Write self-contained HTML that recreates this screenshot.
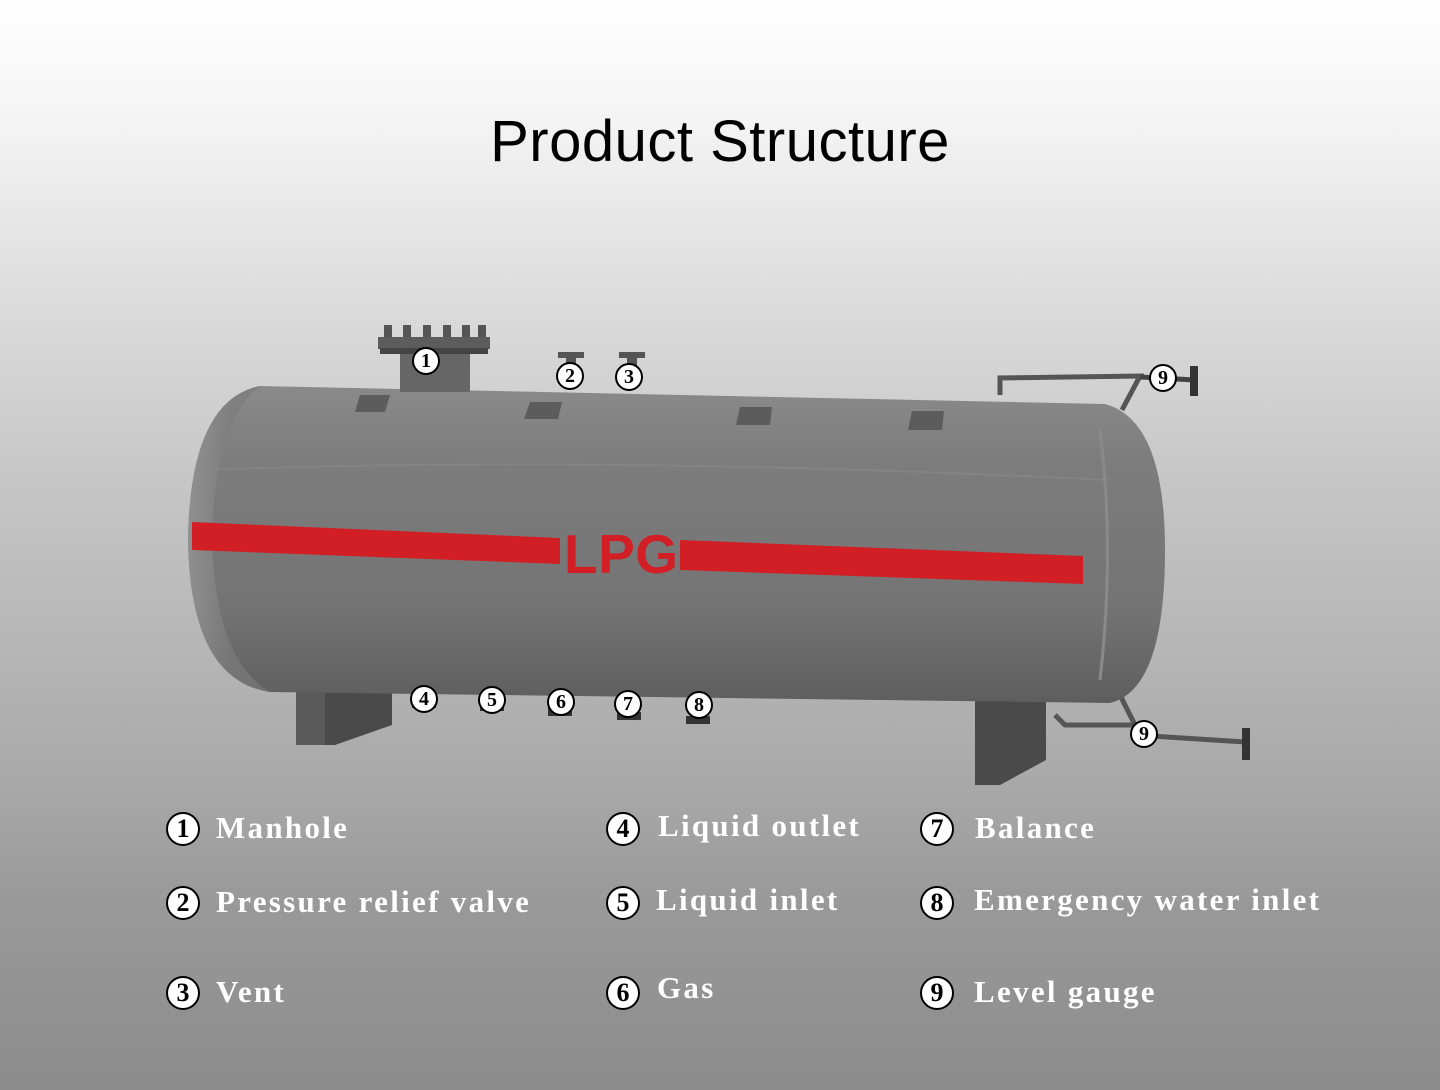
<!DOCTYPE html>
<html><head><meta charset="utf-8"><style>
html,body{margin:0;padding:0}
body{width:1440px;height:1090px;overflow:hidden;background:linear-gradient(#ffffff 0px,#f4f4f4 120px,#dcdcdc 300px,#c4c4c4 500px,#a9a9a9 780px,#999 900px,#8c8c8c 1090px);position:relative;font-family:"Liberation Sans",sans-serif}
h1{position:absolute;left:0;width:1440px;top:108px;margin:0;text-align:center;font-weight:normal;font-size:58px;color:#000;letter-spacing:0.5px}
.lg{position:absolute;font-family:"Liberation Serif",serif;font-weight:bold;color:#fff;font-size:31px;letter-spacing:2.3px}
.c{position:absolute;width:30px;height:30px;border:2px solid #000;border-radius:50%;background:#fff;color:#000;font-family:"Liberation Serif",serif;font-weight:bold;font-size:26px;line-height:30px;text-align:center}
</style></head><body>
<h1>Product Structure</h1>
<svg width="1440" height="1090" style="position:absolute;left:0;top:0">
<defs>
<linearGradient id="tb" x1="0" y1="0" x2="0" y2="1">
<stop offset="0" stop-color="#8a8a8a"/><stop offset="0.25" stop-color="#7c7c7c"/><stop offset="0.7" stop-color="#747474"/><stop offset="1" stop-color="#5e5e5e"/></linearGradient>
<linearGradient id="lc" x1="0" y1="0" x2="1" y2="0">
<stop offset="0" stop-color="#9a9a9a"/><stop offset="0.5" stop-color="#7d7d7d"/><stop offset="1" stop-color="#777"/></linearGradient>
</defs>
<polygon points="296,690 392,685 392,725 335,745 296,745" fill="#4a4a4a"/>
<polygon points="296,660 325,670 325,745 296,745" fill="#5a5a5a"/>
<polygon points="975,690 1046,690 1046,760 1000,785 975,785" fill="#4a4a4a"/>
<path d="M1000,395 L1000,378 L1140,376 L1122,410" stroke="#555" stroke-width="5" fill="none"/>
<path d="M1140,377 L1195,380" stroke="#444" stroke-width="5"/>
<rect x="1190" y="366" width="8" height="30" fill="#333"/>
<path d="M1120,695 L1135,725 L1065,725 L1055,715 M1135,735 L1245,742" stroke="#555" stroke-width="5" fill="none"/>
<rect x="1242" y="728" width="8" height="32" fill="#333"/>
<path d="M260,386 L1105,404 Q1165,420 1165,550 Q1165,690 1110,703 L270,692 Q190,680 188,540 Q190,400 260,386 Z" fill="url(#tb)"/>
<path d="M260,386 Q190,400 188,540 Q190,680 270,692 Q215,660 212,540 Q215,420 260,386Z" fill="url(#lc)" opacity="0.7"/>
<path d="M1100,430 Q1115,550 1100,680" stroke="#8a8a8a" stroke-width="3" fill="none"/>
<path d="M200,470 Q600,455 1110,480" stroke="#8c8c8c" stroke-width="2" fill="none" opacity="0.5"/>
<polygon points="360,395 390,395 385,412 355,412" fill="#5c5c5c"/>
<polygon points="530,402 562,402 558,419 524,419" fill="#5c5c5c"/>
<polygon points="740,407 772,407 770,425 736,425" fill="#5c5c5c"/>
<polygon points="912,411 944,411 942,430 908,430" fill="#5c5c5c"/>
<rect x="400" y="350" width="70" height="42" fill="#666"/>
<rect x="378" y="337" width="112" height="12" fill="#5c5c5c"/>
<rect x="380" y="348" width="108" height="6" fill="#444"/>
<g fill="#555"><rect x="384" y="325" width="8" height="12"/><rect x="403" y="325" width="8" height="12"/><rect x="423" y="325" width="8" height="12"/><rect x="443" y="325" width="8" height="12"/><rect x="462" y="325" width="8" height="12"/><rect x="478" y="325" width="8" height="12"/></g>
<rect x="558" y="352" width="26" height="6" fill="#555"/><rect x="566" y="358" width="10" height="10" fill="#555"/>
<rect x="619" y="352" width="26" height="6" fill="#555"/><rect x="627" y="358" width="10" height="10" fill="#555"/>
<g fill="#333"><rect x="412" y="700" width="24" height="8"/><rect x="480" y="703" width="24" height="8"/><rect x="548" y="708" width="24" height="8"/><rect x="617" y="712" width="24" height="8"/><rect x="686" y="716" width="24" height="8"/></g>
<polygon points="192,522 560,538 560,564 192,550" fill="#d11f25"/>
<polygon points="680,540 1083,556 1083,584 680,570" fill="#d11f25"/>
<text x="564" y="573" font-family="Liberation Sans, sans-serif" font-size="55" font-weight="bold" fill="#d11f25" textLength="114">LPG</text>
</svg>
<div class="c" style="left:412px;top:347px;width:24px;height:24px;line-height:24px;font-size:20px">1</div>
<div class="c" style="left:556px;top:362px;width:24px;height:24px;line-height:24px;font-size:20px">2</div>
<div class="c" style="left:615px;top:363px;width:24px;height:24px;line-height:24px;font-size:20px">3</div>
<div class="c" style="left:1149px;top:364px;width:24px;height:24px;line-height:24px;font-size:20px">9</div>
<div class="c" style="left:1130px;top:720px;width:24px;height:24px;line-height:24px;font-size:20px">9</div>
<div class="c" style="left:410px;top:685px;width:24px;height:24px;line-height:24px;font-size:20px">4</div>
<div class="c" style="left:478px;top:686px;width:24px;height:24px;line-height:24px;font-size:20px">5</div>
<div class="c" style="left:547px;top:688px;width:24px;height:24px;line-height:24px;font-size:20px">6</div>
<div class="c" style="left:614px;top:690px;width:24px;height:24px;line-height:24px;font-size:20px">7</div>
<div class="c" style="left:685px;top:691px;width:24px;height:24px;line-height:24px;font-size:20px">8</div>

<div class="c" style="left:166px;top:812px">1</div><div class="lg" style="left:216px;top:810px">Manhole</div>
<div class="c" style="left:166px;top:886px">2</div><div class="lg" style="left:216px;top:884px">Pressure relief valve</div>
<div class="c" style="left:166px;top:976px">3</div><div class="lg" style="left:216px;top:974px">Vent</div>
<div class="c" style="left:606px;top:812px">4</div><div class="lg" style="left:658px;top:808px">Liquid outlet</div>
<div class="c" style="left:606px;top:886px">5</div><div class="lg" style="left:656px;top:882px">Liquid inlet</div>
<div class="c" style="left:606px;top:976px">6</div><div class="lg" style="left:657px;top:970px">Gas</div>
<div class="c" style="left:920px;top:812px">7</div><div class="lg" style="left:975px;top:810px">Balance</div>
<div class="c" style="left:920px;top:886px">8</div><div class="lg" style="left:974px;top:882px">Emergency water inlet</div>
<div class="c" style="left:920px;top:976px">9</div><div class="lg" style="left:974px;top:974px">Level gauge</div>
</body></html>
